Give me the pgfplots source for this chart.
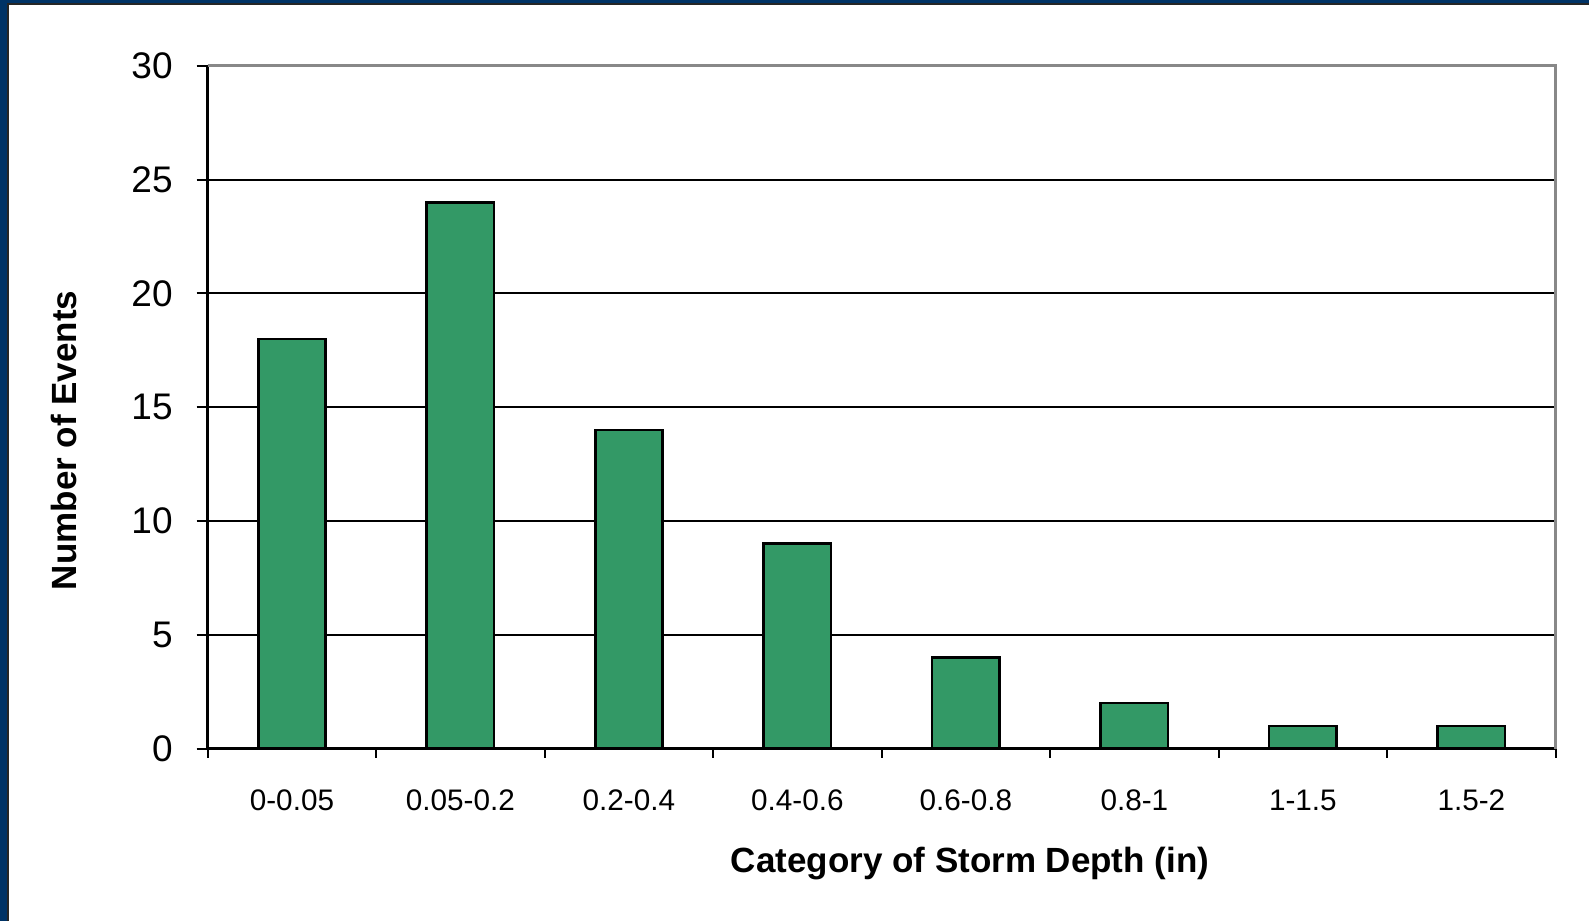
\documentclass[border=0pt]{standalone}
\usepackage{pgfplots}
\pgfplotsset{compat=1.18}
\usepackage{fontspec}
\setmainfont{Liberation Sans}
\definecolor{barg}{RGB}{51,153,102}
\definecolor{navy}{RGB}{0,51,102}
\definecolor{frameg}{RGB}{136,136,136}
\begin{document}
\begin{tikzpicture}
\fill[white] (0,0) rectangle (794.5pt,460.5pt);
\fill[navy] (0,0) rectangle (3.5pt,460.5pt);
\fill[navy] (0,459pt) rectangle (794.5pt,460.5pt);
\draw[black!85, line width=1pt] (4pt,0) -- (4pt,458.5pt) -- (794.5pt,458.5pt);
\begin{axis}[
  at={(103.85pt,86.2pt)}, anchor=south west,
  scale only axis, width=673.95pt, height=341.35pt,
  xmin=-0.5, xmax=7.5, ymin=0, ymax=30,
  clip=false,
  axis x line*=bottom, axis y line*=left,
  axis line style={line width=1.5pt, black},
  xtick={0,...,7},
  xticklabels={0-0.05,0.05-0.2,0.2-0.4,0.4-0.6,0.6-0.8,0.8-1,1-1.5,1.5-2},
  minor xtick={-0.5,0.5,...,7.5},
  ytick={0,5,...,30},
  tick align=outside,
  major tick length=5.5pt,
  minor tick length=4.5pt,
  major x tick style={draw=none},
  tick style={black, line width=1pt},
  ymajorgrids,
  major grid style={black, line width=1pt},
  /pgf/number format/assume math mode=true,
  yticklabel style={font=\fontsize{18.5}{20}\selectfont, xshift=-8.5pt},
  xticklabel style={font=\fontsize{14.85}{16}\selectfont, yshift=-11.7pt},
]
\addplot[ybar, bar width=0.4, fill=barg, draw=black, line width=1.3pt]
  coordinates {(0,18) (1,24) (2,14) (3,9) (4,4) (5,2) (6,1) (7,1)};
\draw[frameg, line width=1.5pt] (rel axis cs:0,1) -- (rel axis cs:1,1) -- (rel axis cs:1,0);
\end{axis}
\node[anchor=base, font=\bfseries\fontsize{17.5}{20}\selectfont] at (485pt,24.5pt) {Category of Storm Depth (in)};
\node[anchor=base, rotate=90, font=\bfseries\fontsize{17.5}{20}\selectfont] at (38pt,240.35pt) {Number of Events};
\pgfresetboundingbox
\useasboundingbox (0,0) rectangle (794.5pt,460.5pt);
\end{tikzpicture}
\end{document}
